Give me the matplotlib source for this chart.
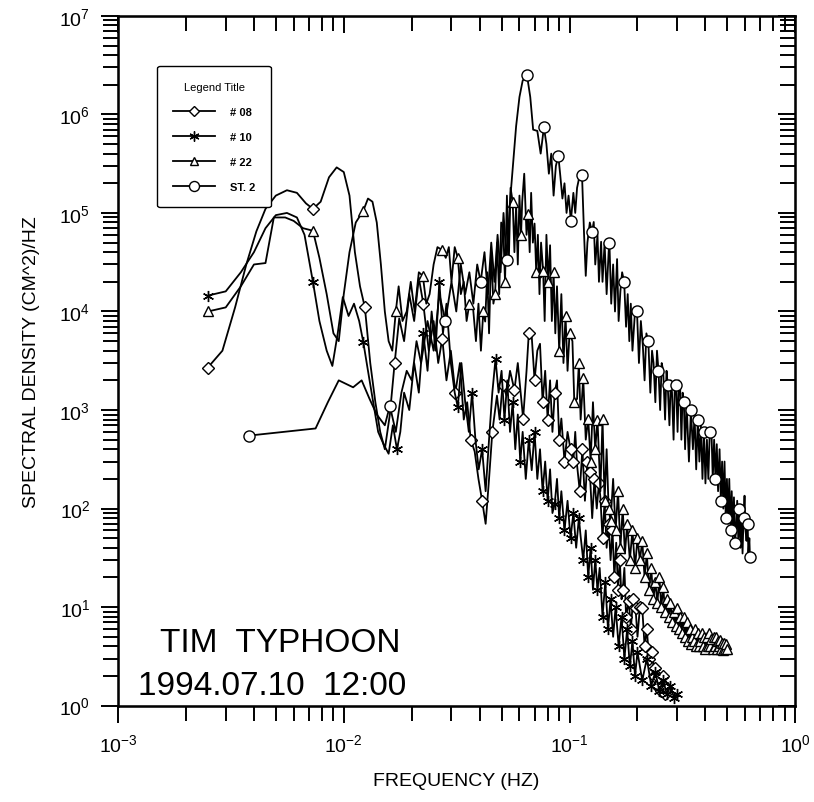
import matplotlib
matplotlib.use("Agg")
import matplotlib.pyplot as plt

plt.rcParams["font.family"] = ["Liberation Sans", "DejaVu Sans"]
plt.rcParams["axes.unicode_minus"] = False

# ---- data: (frequency Hz, spectral density) ----
buoy08 = [
    (0.0025, 2.7e3), (0.0029, 4e3), (0.0033, 1.1e4), (0.0037, 3e4), (0.0041, 6.5e4),
    (0.0045, 1.1e5), (0.0050, 1.5e5), (0.0056, 1.7e5), (0.0062, 1.6e5), (0.0068, 1.25e5),
    (0.0073, 1.1e5), (0.0079, 1.3e5), (0.0086, 2.3e5), (0.0093, 2.9e5), (0.0100, 2.6e5),
    (0.0106, 1.5e5), (0.0112, 4e4), (0.0118, 1.8e4), (0.0124, 1.1e4), (0.0131, 3e3),
    (0.0138, 1.2e3), (0.0145, 6e2), (0.0152, 4e2), (0.0160, 9e2), (0.0168, 3e3),
    (0.0176, 8.5e3), (0.0185, 5e3), (0.0195, 1.5e4), (0.0205, 8e3), (0.0215, 2.2e4),
    (0.0225, 1.2e4), (0.0238, 4e3), (0.0250, 8e3), (0.0262, 3e3), (0.0273, 5.3e3),
    (0.0285, 2e3), (0.0298, 4e3), (0.0312, 1.5e3), (0.0327, 3e3), (0.0340, 8e2),
    (0.0352, 1.2e3), (0.0365, 5e2), (0.0380, 3.8e2), (0.0395, 2e2), (0.0410, 1.2e2),
    (0.0425, 7e1), (0.0440, 2e2), (0.0455, 6e2), (0.0477, 1.4e3), (0.0490, 8e2),
    (0.0505, 1.8e3), (0.0526, 1.4e3), (0.0545, 2.5e3), (0.0570, 1.6e3), (0.0590, 3e3),
    (0.0623, 8.2e2), (0.0645, 2.5e3), (0.0660, 6e3), (0.0680, 5.6e3), (0.0700, 2e3),
    (0.0720, 4e3), (0.0740, 4.7e3), (0.0760, 1.2e3), (0.0780, 2.5e3), (0.0800, 8e2),
    (0.0820, 2e3), (0.0840, 6e2), (0.0860, 1.5e3), (0.0880, 2e3), (0.0900, 5e2),
    (0.0920, 8.2e2), (0.0950, 3e2), (0.0980, 6e2), (0.1010, 4e2), (0.1040, 3e2),
    (0.1060, 6e2), (0.1080, 2.75e2), (0.1110, 1.5e2), (0.1140, 4e2), (0.1170, 1.2e2),
    (0.1200, 3e2), (0.1230, 2.35e2), (0.1260, 8e1), (0.1290, 2e2), (0.1320, 1e2),
    (0.1350, 1.8e2), (0.1370, 1.3e2), (0.1400, 5e1), (0.1430, 1.2e2), (0.1460, 4e1),
    (0.1490, 7e1), (0.1520, 3e1), (0.1550, 6e1), (0.1580, 2e1), (0.1610, 4.5e1),
    (0.1640, 1.5e1), (0.1670, 3e1), (0.1700, 1.2e1), (0.1720, 1.5e1), (0.1750, 2.5e1),
    (0.1780, 8), (0.1830, 11.5), (0.1870, 6), (0.1910, 12), (0.1960, 9.8),
    (0.2000, 5), (0.2050, 10), (0.2100, 9.8), (0.2150, 4), (0.2200, 6),
    (0.2250, 3), (0.2300, 4), (0.2330, 3.5), (0.2370, 2), (0.2400, 2.4),
    (0.2450, 1.6), (0.2500, 1.9), (0.2550, 1.4), (0.2600, 2), (0.2650, 1.3),
    (0.2700, 1.5),
]

buoy10 = [
    (0.0025, 1.45e4), (0.0030, 1.6e4), (0.0035, 2.5e4), (0.0040, 4e4), (0.0045, 7e4),
    (0.0050, 9.5e4), (0.0056, 1e5), (0.0062, 9e4), (0.0067, 6e4), (0.0073, 2e4),
    (0.0078, 8e3), (0.0084, 4e3), (0.0089, 2.8e3), (0.0094, 6e3), (0.0099, 1.4e4),
    (0.0105, 9e3), (0.0111, 1.2e4), (0.0117, 8e3), (0.0122, 4.9e3), (0.0128, 2.5e3),
    (0.0135, 1.2e3), (0.0142, 6e2), (0.0150, 4.5e2), (0.0158, 3.6e2), (0.0165, 7e2),
    (0.0172, 4e2), (0.0178, 6e2), (0.0185, 1.5e3), (0.0195, 1e3), (0.0205, 3e3),
    (0.0215, 1.5e3), (0.0225, 6e3), (0.0235, 2.5e3), (0.0245, 1e4), (0.0255, 4e3),
    (0.0265, 2e4), (0.0275, 6e3), (0.0285, 1.2e4), (0.0298, 3e3), (0.0310, 1.5e3),
    (0.0320, 1.07e3), (0.0332, 3e3), (0.0345, 1.2e3), (0.0358, 6e2), (0.0370, 1.5e3),
    (0.0383, 5e2), (0.0396, 2.5e2), (0.0410, 4e2), (0.0425, 1.5e2), (0.0440, 5e2),
    (0.0455, 1.5e3), (0.0470, 3.3e3), (0.0485, 1.5e3), (0.0500, 2.5e3), (0.0515, 8e2),
    (0.0530, 2e3), (0.0545, 6e2), (0.0560, 1.2e3), (0.0575, 4e2), (0.0590, 9e2),
    (0.0605, 3e2), (0.0620, 6e2), (0.0640, 2e2), (0.0660, 5e2), (0.0680, 2.45e2),
    (0.0700, 6e2), (0.0720, 2e2), (0.0740, 4e2), (0.0760, 1.5e2), (0.0780, 3e2),
    (0.0800, 1.2e2), (0.0820, 2.5e2), (0.0840, 9e1), (0.0860, 1.12e2), (0.0880, 2e2),
    (0.0900, 8e1), (0.0920, 1.5e2), (0.0950, 6e1), (0.0980, 1.2e2), (0.1010, 5e1),
    (0.1040, 9e1), (0.1070, 4e1), (0.1100, 8e1), (0.1120, 5.2e1), (0.1150, 3e1),
    (0.1180, 6e1), (0.1210, 2e1), (0.1240, 4e1), (0.1270, 1.5e1), (0.1300, 3e1),
    (0.1330, 1.5e1), (0.1360, 2.5e1), (0.1400, 8), (0.1440, 18), (0.1480, 6),
    (0.1520, 12), (0.1560, 5), (0.1600, 10), (0.1650, 4), (0.1700, 8),
    (0.1750, 3), (0.1800, 6), (0.1850, 2.5), (0.1900, 4.5), (0.1950, 2),
    (0.2000, 3.5), (0.2100, 1.8), (0.2200, 3), (0.2300, 1.6), (0.2400, 2.2),
    (0.2500, 1.4), (0.2600, 1.8), (0.2700, 1.3), (0.2800, 1.6), (0.2900, 1.2),
    (0.2980, 1.3),
]

buoy22 = [
    (0.0025, 1e4), (0.0030, 1.1e4), (0.0035, 1.8e4), (0.0040, 3e4), (0.0045, 3.1e4),
    (0.0049, 9e4), (0.0055, 9e4), (0.0060, 8.3e4), (0.0066, 7e4), (0.0073, 6.6e4),
    (0.0078, 3.5e4), (0.0084, 1.5e4), (0.0090, 6e3), (0.0095, 5e3), (0.0100, 1.5e4),
    (0.0106, 4e4), (0.0113, 8e4), (0.0122, 1.05e5), (0.0128, 1.4e5), (0.0134, 1.3e5),
    (0.0140, 8e4), (0.0146, 3e4), (0.0152, 1e4), (0.0158, 5e3), (0.0164, 4e3),
    (0.0170, 1e4), (0.0175, 1.8e4), (0.0182, 8e3), (0.0190, 1e4), (0.0198, 2e4),
    (0.0206, 1e4), (0.0215, 2.5e4), (0.0224, 2.3e4), (0.0232, 1.2e4), (0.0240, 1.5e4),
    (0.0250, 3e4), (0.0260, 4.5e4), (0.0273, 4.2e4), (0.0283, 3.5e4), (0.0292, 4.5e4),
    (0.0300, 2e4), (0.0310, 4.5e4), (0.0320, 3.5e4), (0.0330, 1.5e4), (0.0340, 2e4),
    (0.0350, 8e3), (0.0360, 1.2e4), (0.0374, 1.07e4), (0.0385, 5e3), (0.0395, 1.2e4),
    (0.0405, 4e3), (0.0415, 1e4), (0.0423, 7.9e3), (0.0432, 2.5e4), (0.0440, 6e3),
    (0.0450, 4e4), (0.0460, 1.2e4), (0.0468, 1.5e4), (0.0478, 5e4), (0.0488, 1.5e4),
    (0.0498, 8e4), (0.0508, 7.2e4), (0.0518, 2e4), (0.0528, 1.5e5), (0.0538, 3e4),
    (0.0548, 1.8e5), (0.0560, 1.3e5), (0.0570, 4e4), (0.0580, 1.2e5), (0.0590, 3e4),
    (0.0600, 1.5e5), (0.0610, 6e4), (0.0617, 1.3e5), (0.0630, 2.5e5), (0.0645, 6e4),
    (0.0656, 9.8e4), (0.0666, 4e4), (0.0676, 1.6e5), (0.0688, 5e4), (0.0700, 7.8e4),
    (0.0712, 2.5e4), (0.0724, 6e4), (0.0736, 1.5e4), (0.0748, 5e4), (0.0764, 2.6e4),
    (0.0776, 8e3), (0.0790, 6e4), (0.0805, 2e4), (0.0820, 4.7e4), (0.0835, 8e3),
    (0.0850, 2.5e4), (0.0865, 6e3), (0.0880, 1.8e4), (0.0900, 4e3), (0.0920, 1.5e4),
    (0.0940, 3e3), (0.0960, 9.1e3), (0.0980, 2.5e3), (0.1000, 6e3), (0.1030, 5e3),
    (0.1050, 1.2e3), (0.1080, 1.3e3), (0.1100, 3e3), (0.1120, 8e2), (0.1150, 2.1e3),
    (0.1180, 5e2), (0.1210, 8.2e2), (0.1240, 3e2), (0.1270, 1.2e3), (0.1300, 4e2),
    (0.1330, 8e2), (0.1370, 1.5e2), (0.1400, 8.2e2), (0.1430, 1.2e2), (0.1460, 4e2),
    (0.1490, 1e2), (0.1520, 7.4e1), (0.1560, 2e2), (0.1600, 6e1), (0.1640, 1.5e2),
    (0.1680, 4e1), (0.1720, 1e2), (0.1760, 3.5e1), (0.1800, 7e1), (0.1850, 3e1),
    (0.1900, 6e1), (0.1950, 2.5e1), (0.2000, 5e1), (0.2050, 3e1), (0.2100, 4.7e1),
    (0.2150, 2e1), (0.2200, 3.5e1), (0.2250, 1.5e1), (0.2300, 2.5e1), (0.2350, 12),
    (0.2400, 18), (0.2450, 11), (0.2500, 20), (0.2550, 10), (0.2600, 16),
    (0.2650, 9), (0.2700, 12), (0.2750, 8), (0.2800, 11), (0.2850, 7),
    (0.2900, 9), (0.2950, 6.5), (0.3000, 9.8), (0.3050, 6), (0.3100, 8),
    (0.3150, 5.5), (0.3200, 8), (0.3250, 5), (0.3300, 7), (0.3350, 4.5),
    (0.3400, 6), (0.3450, 4.2), (0.3500, 5), (0.3550, 4.5), (0.3600, 6),
    (0.3650, 4), (0.3700, 5.5), (0.3750, 4), (0.3800, 4.5), (0.3850, 5.5),
    (0.3900, 4), (0.3950, 5), (0.4000, 3.8), (0.4050, 5), (0.4100, 4),
    (0.4150, 5.5), (0.4200, 4), (0.4250, 4.8), (0.4300, 3.8), (0.4350, 5),
    (0.4400, 4), (0.4450, 5), (0.4500, 3.8), (0.4550, 4.5), (0.4600, 4),
    (0.4650, 4.6), (0.4700, 3.8), (0.4750, 4.3), (0.4800, 3.7), (0.4850, 4.3),
    (0.4900, 3.8), (0.4950, 4.2), (0.5000, 3.8),
]

station2 = [
    (0.0038, 5.5e2), (0.0075, 6.5e2), (0.0085, 1.2e3), (0.0095, 2e3), (0.0110, 1.7e3),
    (0.0120, 2e3), (0.0130, 1.3e3), (0.0140, 9e2), (0.0152, 7e2), (0.0160, 1.1e3),
    (0.0170, 6e2), (0.0180, 1.5e3), (0.0190, 2.5e3), (0.0200, 2e3), (0.0210, 5e3),
    (0.0220, 3e3), (0.0235, 8e3), (0.0250, 4e3), (0.0265, 1.5e4), (0.0282, 8e3),
    (0.0300, 2e4), (0.0315, 1e4), (0.0330, 3e4), (0.0345, 1.5e4), (0.0360, 2.5e4),
    (0.0375, 1.2e4), (0.0390, 3e4), (0.0404, 2e4), (0.0420, 4e4), (0.0435, 1.5e4),
    (0.0450, 5e4), (0.0465, 2e4), (0.0480, 6e4), (0.0495, 2.5e4), (0.0510, 1e5),
    (0.0526, 3.3e4), (0.0545, 1.3e5), (0.0560, 2.8e5), (0.0580, 7.6e5), (0.0600, 1.5e6),
    (0.0620, 2.2e6), (0.0648, 2.5e6), (0.0670, 1.5e6), (0.0690, 7e5), (0.0720, 6.8e5),
    (0.0745, 4e5), (0.0770, 7.4e5), (0.0790, 5e5), (0.0810, 2.5e5), (0.0830, 4e5),
    (0.0850, 1.5e5), (0.0870, 3e5), (0.0892, 3.8e5), (0.0910, 2.4e5), (0.0930, 1.4e5),
    (0.0950, 2e5), (0.0970, 1e5), (0.0990, 1.5e5), (0.1014, 8.3e4), (0.1040, 1.6e5),
    (0.1060, 1e5), (0.1080, 1.8e5), (0.1100, 2.2e5), (0.1136, 2.4e5), (0.1160, 6e4),
    (0.1180, 2.3e4), (0.1200, 5e4), (0.1230, 8e4), (0.1258, 6.4e4), (0.1280, 8.1e4),
    (0.1300, 3e4), (0.1330, 6e4), (0.1350, 2e4), (0.1380, 5.1e4), (0.1400, 2e4),
    (0.1430, 5e4), (0.1460, 1.5e4), (0.1490, 4e4), (0.1502, 5e4), (0.1530, 1.2e4),
    (0.1560, 3e4), (0.1590, 1e4), (0.1624, 3.4e4), (0.1650, 8e3), (0.1680, 1.6e4),
    (0.1710, 2.5e4), (0.1746, 2e4), (0.1780, 7e3), (0.1810, 1.5e4), (0.1840, 5e3),
    (0.1868, 1.2e4), (0.1900, 4e3), (0.1950, 1e4), (0.1990, 1e4), (0.2030, 3e3),
    (0.2070, 8e3), (0.2112, 4.5e3), (0.2150, 2e3), (0.2190, 6e3), (0.2234, 5e3),
    (0.2280, 1.5e3), (0.2320, 4e3), (0.2356, 3e3), (0.2400, 1.2e3), (0.2440, 4e3),
    (0.2478, 2.5e3), (0.2520, 1e3), (0.2560, 3e3), (0.2600, 2.5e3), (0.2650, 8e2),
    (0.2690, 2.5e3), (0.2722, 1.8e3), (0.2770, 7e2), (0.2810, 2e3), (0.2844, 1.5e3),
    (0.2890, 5e2), (0.2930, 2e3), (0.2966, 1.8e3), (0.3010, 6e2), (0.3050, 2e3),
    (0.3088, 1.8e3), (0.3130, 5e2), (0.3170, 1.5e3), (0.3210, 1.2e3), (0.3250, 4e2),
    (0.3300, 1.2e3), (0.3380, 3e2), (0.3450, 1e3), (0.3520, 4e2), (0.3580, 9e2),
    (0.3640, 2.5e2), (0.3700, 8e2), (0.3760, 3e2), (0.3820, 7e2), (0.3880, 2e2),
    (0.3940, 6e2), (0.4000, 1.8e2), (0.4060, 5e2), (0.4120, 2e2), (0.4180, 6e2),
    (0.4250, 6.5e2), (0.4310, 2e2), (0.4370, 5e2), (0.4430, 2e2), (0.4490, 4.5e2),
    (0.4550, 1.5e2), (0.4620, 4e2), (0.4680, 1.2e2), (0.4740, 3e2), (0.4800, 1e2),
    (0.4860, 3e2), (0.4920, 8e1), (0.4980, 2e2), (0.5040, 7e1), (0.5100, 2e2),
    (0.5170, 6e1), (0.5230, 1.5e2), (0.5290, 5e1), (0.5350, 1.3e2), (0.5410, 4.5e1),
    (0.5470, 6.3e1), (0.5530, 1.2e2), (0.5590, 5e1), (0.5650, 1e2), (0.5720, 4e1),
    (0.5780, 9e1), (0.5840, 3.5e1), (0.5900, 8e1), (0.5960, 1.35e2), (0.6020, 6e1),
    (0.6080, 4.7e1), (0.6150, 7e1), (0.6200, 3.5e1), (0.6260, 5e1), (0.6300, 3.2e1),
]

labels = ["# 08", "# 10", "# 22", "ST. 2"]
markers = ["D", (6, 2, 0), "^", "o"]
# symbol spacing in Hz as (from, to, step) segments
marker_grid = [
    [(0.0025, 1.0, 0.00488)],
    [(0.0025, 1.0, 0.00488)],
    [(0.0025, 1.0, 0.00488)],
    [(0.0038, 0.13, 0.0122), (0.1502, 1.0, 0.0244)],
]


def grid_indices(freqs, segments):
    idx = []
    for start, stop, step in segments:
        g = start
        while g <= min(stop, freqs[-1] + step / 2):
            i = min(range(len(freqs)), key=lambda j: abs(freqs[j] - g))
            if abs(freqs[i] - g) < step / 2 and i not in idx:
                idx.append(i)
            g += step
    return sorted(idx)


fig = plt.figure(figsize=(8.14, 8.03), dpi=100)
ax = fig.add_axes([0.145, 0.12, 0.832, 0.859])

for data, lab, mk, segs in zip([buoy08, buoy10, buoy22, station2], labels, markers, marker_grid):
    fx = [p[0] for p in data]
    vy = [p[1] for p in data]
    ms = 6 if mk == "D" else (7 if mk == "^" else 8)
    ax.plot(fx, vy, color="black", linewidth=1.3, marker=mk, markersize=ms,
            markerfacecolor="white", markeredgecolor="black", markeredgewidth=1.0,
            markevery=grid_indices(fx, segs), label=lab)

ax.set_xscale("log")
ax.set_yscale("log")
ax.set_xlim(1e-3, 1e0)
ax.set_ylim(1e0, 1e7)

for s in ax.spines.values():
    s.set_linewidth(1.8)
ax.tick_params(which="both", direction="out", top=False, right=False,
               width=1.4, labelsize=14, pad=8)
ax.tick_params(which="major", length=12)
ax.tick_params(which="minor", length=11)

# top and right ticks point inwards
axr = ax.twinx()
axr.set_yscale("log")
axr.set_ylim(1e0, 1e7)
axr.tick_params(which="both", direction="in", labelright=False, width=1.4)
axr.tick_params(which="major", length=12)
axr.tick_params(which="minor", length=11)
axt = ax.twiny()
axt.set_xscale("log")
axt.set_xlim(1e-3, 1e0)
axt.tick_params(which="both", direction="in", labeltop=False, width=1.4)
axt.tick_params(which="major", length=12)
axt.tick_params(which="minor", length=11)

ax.set_xlabel("FREQUENCY (HZ)", fontsize=14, labelpad=12)
ax.set_ylabel("SPECTRAL DENSITY (CM^2)/HZ", fontsize=14, labelpad=14)

leg = ax.legend(title="Legend Title", loc="upper left", bbox_to_anchor=(0.05, 0.935),
                fontsize=8, title_fontsize=8, fancybox=True, framealpha=1,
                edgecolor="black", handlelength=3.8, handletextpad=1.3,
                labelspacing=1.35, borderpad=1.4, markerscale=0.9)
leg.get_frame().set_linewidth(1.0)
for t in leg.get_texts():
    t.set_fontweight("bold")

fig.text(160 / 814, 1 - 652 / 803, "TIM  TYPHOON", fontsize=24, va="baseline")
fig.text(138 / 814, 1 - 695 / 803, "1994.07.10  12:00", fontsize=24, va="baseline")

fig.savefig("out.png", dpi=100)
